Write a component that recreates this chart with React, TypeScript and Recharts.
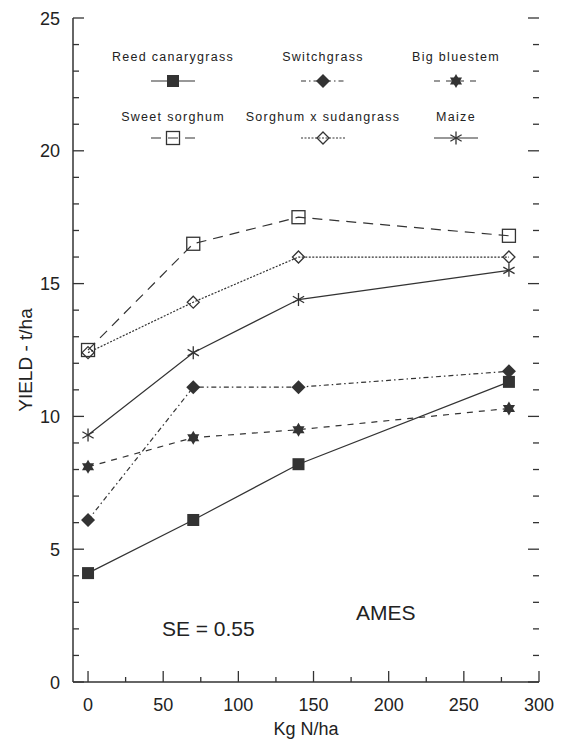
import React from "react";
import {
  LineChart,
  Line,
  XAxis,
  YAxis,
  Legend,
  ReferenceDot,
  Label,
} from "recharts";

// Kg N/ha applied
const nRates = [0, 70, 140, 280];

// yield, t/ha
const reedCanarygrass = [4.1, 6.1, 8.2, 11.3];
const switchgrass = [6.1, 11.1, 11.1, 11.7];
const bigBluestem = [8.1, 9.2, 9.5, 10.3];
const sweetSorghum = [12.5, 16.5, 17.5, 16.8];
const sorghumSudangrass = [12.4, 14.3, 16.0, 16.0];
const maize = [9.3, 12.4, 14.4, 15.5];

const xTicks = [0, 25, 50, 75, 100, 125, 150, 175, 200, 225, 250, 275, 300];
const xLabelled = [0, 50, 100, 150, 200, 250, 300];
const yTicks = [
  0, 1, 2, 3, 4, 5, 6, 7, 8, 9, 10, 11, 12, 13, 14, 15, 16, 17, 18, 19, 20,
  21, 22, 23, 24, 25,
];
const yLabelled = [0, 5, 10, 15, 20, 25];

const INK = "#333";
const FONT = "'Liberation Sans', Arial, sans-serif";

const CHART_W = 565;
const CHART_H = 740;
const MARGIN = { top: 18, right: 26, bottom: 0, left: 0 };
const Y_AXIS_W = 73;
const PLOT_RIGHT = CHART_W - MARGIN.right;

type Marker =
  | "square"
  | "diamond"
  | "star"
  | "openSquare"
  | "openDiamond"
  | "asterisk";

const series: {
  key: string;
  name: string;
  values: number[];
  dash?: string;
  marker: Marker;
}[] = [
  { key: "reed", name: "Reed canarygrass", values: reedCanarygrass, marker: "square" },
  { key: "switch", name: "Switchgrass", values: switchgrass, dash: "5 3 1.5 3", marker: "diamond" },
  { key: "bluestem", name: "Big bluestem", values: bigBluestem, dash: "6 6", marker: "star" },
  { key: "sweet", name: "Sweet sorghum", values: sweetSorghum, dash: "10 7", marker: "openSquare" },
  { key: "sudan", name: "Sorghum x sudangrass", values: sorghumSudangrass, dash: "2 1.5", marker: "openDiamond" },
  { key: "maize", name: "Maize", values: maize, marker: "asterisk" },
];

const data = nRates.map((n, i) => {
  const row: Record<string, number> = { n };
  series.forEach((s) => {
    row[s.key] = s.values[i];
  });
  return row;
});

function MarkerShape({ type, cx, cy }: { type: Marker; cx: number; cy: number }) {
  switch (type) {
    case "square":
      return <rect x={cx - 6} y={cy - 6} width={12} height={12} fill={INK} />;
    case "diamond":
      return (
        <polygon
          points={`${cx},${cy - 7} ${cx + 7},${cy} ${cx},${cy + 7} ${cx - 7},${cy}`}
          fill={INK}
        />
      );
    case "star": {
      const r = 7;
      const tri = (rot: number) =>
        [0, 1, 2]
          .map((k) => {
            const a = rot + (k * 2 * Math.PI) / 3;
            return `${cx + r * Math.sin(a)},${cy - r * Math.cos(a)}`;
          })
          .join(" ");
      return (
        <g fill={INK}>
          <polygon points={tri(0)} />
          <polygon points={tri(Math.PI)} />
        </g>
      );
    }
    case "openSquare":
      return (
        <rect
          x={cx - 6.5}
          y={cy - 6.5}
          width={13}
          height={13}
          fill="none"
          stroke={INK}
          strokeWidth={1.3}
        />
      );
    case "openDiamond":
      return (
        <polygon
          points={`${cx},${cy - 6} ${cx + 6},${cy} ${cx},${cy + 6} ${cx - 6},${cy}`}
          fill="none"
          stroke={INK}
          strokeWidth={1.3}
        />
      );
    case "asterisk": {
      const r = 6.5;
      return (
        <g stroke={INK} strokeWidth={1.3}>
          {[90, 30, 150].map((deg) => {
            const a = (deg * Math.PI) / 180;
            const dx = r * Math.cos(a);
            const dy = r * Math.sin(a);
            return <line key={deg} x1={cx - dx} y1={cy - dy} x2={cx + dx} y2={cy + dy} />;
          })}
        </g>
      );
    }
  }
  return null;
}

const legendCols = [173, 323, 456];

function LegendGrid() {
  return (
    <svg width={CHART_W} height={150} style={{ display: "block" }}>
      {series.map((s, i) => {
        const cx = legendCols[i % 3];
        const row = Math.floor(i / 3);
        const ty = row === 0 ? 56 : 116;
        const sy = row === 0 ? 81 : 138;
        return (
          <g key={s.key}>
            <text
              x={cx}
              y={ty + 4.5}
              textAnchor="middle"
              fontFamily={FONT}
              fontSize={12.5}
              letterSpacing={1.3}
              fill="#222"
            >
              {s.name}
            </text>
            <line
              x1={cx - 22}
              x2={cx + 22}
              y1={sy}
              y2={sy}
              stroke={INK}
              strokeWidth={1.2}
              strokeDasharray={s.dash}
            />
            <MarkerShape type={s.marker} cx={cx} cy={sy} />
          </g>
        );
      })}
    </svg>
  );
}

function BottomTick(props: any) {
  const { x, y, payload } = props;
  const major = xLabelled.includes(payload.value);
  return (
    <g>
      <line x1={x} x2={x} y1={y} y2={y - (major ? 11 : 5)} stroke={INK} strokeWidth={1.3} />
      {major && (
        <text x={x} y={y + 28.5} textAnchor="middle" fontFamily={FONT} fontSize={18} fill="#222">
          {payload.value}
        </text>
      )}
    </g>
  );
}

// left ticks + labels, and the matching inward ticks on the right frame
function LeftTick(props: any) {
  const { x, y, payload, right } = props;
  const major = yLabelled.includes(payload.value);
  const len = major ? 11 : 6;
  return (
    <g>
      <line x1={x} x2={x + len} y1={y} y2={y} stroke={INK} strokeWidth={1.3} />
      <line x1={right} x2={right - len} y1={y} y2={y} stroke={INK} strokeWidth={1.3} />
      {major && (
        <text x={x - 13} y={y + 6.5} textAnchor="end" fontFamily={FONT} fontSize={18} fill="#222">
          {payload.value}
        </text>
      )}
    </g>
  );
}

function XTitle(props: any) {
  const { viewBox } = props;
  return (
    <text
      x={viewBox.x + viewBox.width / 2}
      y={viewBox.y + 53}
      textAnchor="middle"
      fontFamily={FONT}
      fontSize={18}
      fill="#222"
    >
      Kg N/ha
    </text>
  );
}

function YTitle(props: any) {
  const { viewBox } = props;
  const cx = 25;
  const cy = viewBox.y + viewBox.height / 2 + 10;
  return (
    <text
      x={cx}
      y={cy}
      transform={`rotate(-90 ${cx} ${cy})`}
      textAnchor="middle"
      dominantBaseline="central"
      fontFamily={FONT}
      fontSize={19}
      fill="#222"
    >
      YIELD - t/ha
    </text>
  );
}

export default function App() {
  return (
    <div style={{ position: "absolute", left: 0, top: 0, background: "#fff" }}>
      <LineChart width={CHART_W} height={CHART_H} data={data} margin={MARGIN}>
        <XAxis
          dataKey="n"
          type="number"
          domain={[-10, 300]}
          ticks={xTicks}
          interval={0}
          height={58}
          tickSize={0}
          tickMargin={0}
          tickLine={false}
          tick={<BottomTick />}
          axisLine={{ stroke: INK, strokeWidth: 1.5 }}
          allowDataOverflow
        >
          <Label content={<XTitle />} />
        </XAxis>
        <XAxis
          xAxisId="top"
          dataKey="n"
          type="number"
          orientation="top"
          domain={[-10, 300]}
          height={0}
          tick={false}
          tickLine={false}
          axisLine={{ stroke: INK, strokeWidth: 1.5 }}
        />
        <YAxis
          type="number"
          domain={[0, 25]}
          ticks={yTicks}
          interval={0}
          width={Y_AXIS_W}
          tickSize={0}
          tickMargin={0}
          tickLine={false}
          tick={<LeftTick right={PLOT_RIGHT} />}
          axisLine={{ stroke: INK, strokeWidth: 1.5 }}
          allowDataOverflow
        >
          <Label content={<YTitle />} />
        </YAxis>
        <YAxis
          yAxisId="right"
          orientation="right"
          type="number"
          domain={[0, 25]}
          width={0}
          tick={false}
          tickLine={false}
          axisLine={{ stroke: INK, strokeWidth: 1.5 }}
        />
        <Legend
          verticalAlign="middle"
          align="center"
          layout="horizontal"
          content={() => <LegendGrid />}
          wrapperStyle={{ top: 0, left: 0, width: CHART_W, height: 150, pointerEvents: "none" }}
        />
        {series.map((s) => (
          <Line
            key={s.key}
            dataKey={s.key}
            name={s.name}
            type="linear"
            stroke={INK}
            strokeWidth={1.2}
            strokeDasharray={s.dash}
            dot={(p: any) => <MarkerShape key={`${s.key}-${p.index}`} type={s.marker} cx={p.cx} cy={p.cy} />}
            activeDot={false}
            isAnimationActive={false}
          />
        ))}
        <ReferenceDot x={80} y={2} r={0} stroke="none" fill="none">
          <Label
            value="SE = 0.55"
            position="center"
            style={{ fontFamily: FONT, fontSize: 21, fill: "#222" }}
          />
        </ReferenceDot>
        <ReferenceDot x={198} y={2.63} r={0} stroke="none" fill="none">
          <Label
            value="AMES"
            position="center"
            style={{ fontFamily: FONT, fontSize: 21, fill: "#222" }}
          />
        </ReferenceDot>
      </LineChart>
    </div>
  );
}
